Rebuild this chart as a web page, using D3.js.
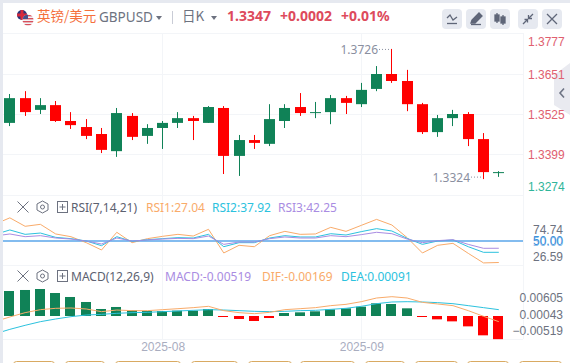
<!DOCTYPE html>
<html>
<head>
<meta charset="utf-8">
<style>
  body { margin: 0; background: #fff; }
  svg { display: block; font-family: "Noto Sans", "Noto Sans CJK SC", sans-serif; }
  .domain { display: none; }
</style>
<script src="https://cdn.jsdelivr.net/npm/d3@7"></script>
</head>
<body>
<div id="chart"></div>
<script>
// Candles, index 0 is the leftmost bar on screen
const opens = [1.3497, 1.3575, 1.3538, 1.3553, 1.3503, 1.3484, 1.3462, 1.3408, 1.3519, 1.3456, 1.3481, 1.3497, 1.3512, 1.3497, 1.3544, 1.3393, 1.3443, 1.3431, 1.3503, 1.3547, 1.3528, 1.3531, 1.3575, 1.3556, 1.3604, 1.3651, 1.3629, 1.3556, 1.3468, 1.3512, 1.3525, 1.3446, 1.3340];
const closes = [1.3575, 1.3531, 1.3553, 1.3503, 1.3490, 1.3456, 1.3412, 1.3528, 1.3453, 1.3481, 1.3497, 1.3512, 1.3503, 1.3547, 1.3393, 1.3443, 1.3434, 1.3509, 1.3544, 1.3528, 1.3531, 1.3575, 1.3560, 1.3601, 1.3651, 1.3629, 1.3556, 1.3468, 1.3512, 1.3525, 1.3446, 1.3342, 1.3342];
const highs = [1.3588, 1.3597, 1.3575, 1.3566, 1.3531, 1.3509, 1.3481, 1.3544, 1.3528, 1.3493, 1.3503, 1.3531, 1.3519, 1.3550, 1.3550, 1.3459, 1.3459, 1.3556, 1.3556, 1.3591, 1.3563, 1.3585, 1.3582, 1.3623, 1.3676, 1.3730, 1.3664, 1.3560, 1.3522, 1.3538, 1.3531, 1.3465, 1.3345];
const lows = [1.3487, 1.3519, 1.3525, 1.3500, 1.3478, 1.3446, 1.3402, 1.3390, 1.3443, 1.3431, 1.3415, 1.3481, 1.3443, 1.3497, 1.3336, 1.3330, 1.3415, 1.3424, 1.3481, 1.3519, 1.3512, 1.3493, 1.3525, 1.3547, 1.3597, 1.3623, 1.3534, 1.3462, 1.3453, 1.3487, 1.3424, 1.3320, 1.3327];

// Indicator series start one bar earlier, that bar is clipped off the left edge
const rsi1 = [67.8, 74.74, 65.7, 67.8, 57.5, 54.6, 48.2, 40.4, 59.3, 48.2, 52.5, 55.0, 57.1, 55.3, 62.5, 37.2, 45.4, 43.9, 55.7, 60.3, 57.1, 57.5, 64.6, 60.3, 66.7, 73.1, 67.1, 53.6, 37.2, 45.4, 47.5, 36.8, 26.59, 27.04];
const rsi2 = [56.8, 61.8, 57.1, 58.5, 53.9, 52.5, 50.0, 45.0, 54.6, 49.6, 51.4, 52.5, 53.6, 53.2, 57.1, 43.9, 48.2, 48.2, 53.2, 55.7, 54.3, 54.3, 57.8, 56.4, 60.0, 63.2, 60.7, 52.8, 46.4, 50.0, 51.1, 43.9, 37.9, 37.92];
const rsi3 = [55.3, 57.5, 54.6, 55.7, 53.2, 52.1, 50.0, 46.8, 53.2, 50.0, 51.1, 52.1, 52.8, 52.5, 55.3, 46.4, 48.9, 48.9, 52.5, 54.3, 53.2, 53.2, 55.7, 54.6, 56.8, 59.3, 57.8, 52.1, 48.2, 50.4, 51.4, 46.4, 42.2, 42.25];
const dif = [-0.00127, -0.00022, 0.00075, 0.00142, 0.00172, 0.00179, 0.00157, 0.00097, 0.00134, 0.00120, 0.00120, 0.00142, 0.00164, 0.00187, 0.00217, 0.00120, 0.00075, 0.00052, 0.00082, 0.00142, 0.00164, 0.00187, 0.00232, 0.00261, 0.00321, 0.00403, 0.00433, 0.00403, 0.00306, 0.00269, 0.00232, 0.00120, -0.00007, -0.00127];
const dea = [-0.00403, -0.00299, -0.00209, -0.00127, -0.00067, -0.00015, 0.00022, 0.00037, 0.00060, 0.00075, 0.00082, 0.00097, 0.00112, 0.00127, 0.00142, 0.00134, 0.00120, 0.00105, 0.00097, 0.00105, 0.00120, 0.00127, 0.00149, 0.00172, 0.00217, 0.00276, 0.00314, 0.00321, 0.00314, 0.00299, 0.00276, 0.00232, 0.00187, 0.00142];
const macdBars = [0.00560, 0.00583, 0.00605, 0.00515, 0.00426, 0.00314, 0.00157, 0.00202, 0.00127, 0.00112, 0.00112, 0.00120, 0.00120, 0.00157, -0.00019, -0.00067, -0.00112, -0.00045, 0.00067, 0.00082, 0.00105, 0.00149, 0.00172, 0.00209, 0.00284, 0.00269, 0.00172, -0.00022, -0.00075, -0.00120, -0.00232, -0.00433, -0.00519];

// Tick labels
const priceTicks = [1.3777, 1.3651, 1.3525, 1.3399, 1.3274];
const rsiTicks = [74.74, 50, 26.59];
const macdTicks = [0.00605, 0.00043, -0.00519];
const monthTicks = [10, 23];
const monthLabels = ["2025-08", "2025-09"];

const UP = "#108257", DOWN = "#ff0000";
const ORANGE = "#f9ab6a", CYAN = "#2cc2de", PURPLE = "#a98ce2";
const GRID = "#f3f5f8", LABEL = "#6d7280";

const width = 570, height = 363;

const svg = d3.select("#chart").append("svg")
  .attr("width", width)
  .attr("height", height)
  .attr("viewBox", `0 0 ${width} ${height}`);

const x = d3.scaleLinear().domain([0, 32]).range([9.85, 498.81]);
const y = d3.scaleLinear().domain([1.3777, 1.3274]).range([34, 193.7]);
const yRsi = d3.scaleLinear().domain([50, 0]).range([241, 287.8]);
const yMacd = d3.scaleLinear().domain([0, 0.00605]).range([316, 289]);

const px = (i) => Math.floor(x(i));

svg.append("defs").append("clipPath").attr("id", "plot")
  .append("rect").attr("x", 3).attr("y", 0).attr("width", 520).attr("height", height);

// Page frame
svg.append("rect").attr("width", width).attr("height", 3).attr("fill", "#e6e9f0");
svg.append("rect").attr("width", 3).attr("height", height).attr("fill", "#e6e9f0");

// Gridlines, drawn before everything else
const grid = svg.append("g").attr("stroke", GRID).attr("stroke-width", 1);
[33.5, 74.5, 114.5, 154.5, 195.5, 265.5, 339.5].forEach((g) => {
  grid.append("line").attr("x1", 3).attr("x2", 523).attr("y1", g).attr("y2", g);
});
monthTicks.forEach((m) => {
  grid.append("line").attr("x1", px(m) + 0.5).attr("x2", px(m) + 0.5).attr("y1", 33).attr("y2", 339);
});
grid.append("line").attr("x1", 523.5).attr("x2", 523.5).attr("y1", 33).attr("y2", 339);

// Candles
const candles = svg.append("g").attr("class", "candles").attr("clip-path", "url(#plot)");
const candle = candles.selectAll("g").data(opens).join("g")
  .attr("fill", (d, i) => (closes[i] >= d ? UP : DOWN))
  .attr("stroke", "none");

candle.append("rect")
  .attr("x", (d, i) => px(i))
  .attr("width", 1)
  .attr("y", (d, i) => y(highs[i]))
  .attr("height", (d, i) => y(lows[i]) - y(highs[i]));

candle.append("rect")
  .attr("x", (d, i) => px(i) - 5)
  .attr("width", 11)
  .attr("y", (d, i) => y(Math.max(d, closes[i])))
  .attr("height", (d, i) => Math.max(1, Math.abs(y(d) - y(closes[i]))));

// High and low markers
function extreme(text, right, yPos) {
  svg.append("text").attr("x", right - 13).attr("y", yPos + 4.5).attr("text-anchor", "end")
    .attr("font-size", 12).attr("fill", "#8a8f9f").text(text);
  svg.append("line").attr("x1", right - 12).attr("x2", right).attr("y1", yPos).attr("y2", yPos)
    .attr("stroke", "#8a8f9f").attr("stroke-dasharray", "1 2");
}
extreme("1.3726", px(25), y(d3.max(highs)) + 0.5);
extreme("1.3324", px(31), y(d3.min(lows)) - 2);

// Right hand collapse tab, the price labels sit on top of it
svg.append("path").attr("d", "M570 63L554 75V105L570 115Z").attr("fill", "#e9eaf0");
svg.append("path").attr("d", "M564 88.5L560 93L564 97.5").attr("fill", "none")
  .attr("stroke", "#6f7585").attr("stroke-width", 1.6);

// Price axis
const priceColor = (d) => (d === 1.3274 ? "#2fb59a" : "#e0606f");
const priceAxis = svg.append("g")
  .attr("transform", "translate(528,0)")
  .call(d3.axisRight(y).tickValues(priceTicks).tickSize(0).tickPadding(0).tickFormat(d3.format(".4f")));
priceAxis.selectAll("text")
  .attr("font-size", 12)
  .attr("font-family", "inherit")
  .attr("fill", priceColor)
  .attr("dy", (d) => (d === 1.3777 ? "0.95em" : d === 1.3274 ? "-0.25em" : "0.4em"));

// RSI pane
const rsiPane = svg.append("g").attr("clip-path", "url(#plot)");
rsiPane.append("line").attr("x1", 3).attr("x2", 523).attr("y1", yRsi(50)).attr("y2", yRsi(50))
  .attr("stroke", "#8fc6f2").attr("stroke-width", 2);

const rsiLine = d3.line().x((d, i) => x(i - 1)).y((d) => yRsi(d));
[[rsi1, ORANGE], [rsi2, CYAN], [rsi3, PURPLE]].forEach(([series, color]) => {
  rsiPane.append("path").datum(series).attr("d", rsiLine)
    .attr("fill", "none").attr("stroke", color).attr("stroke-width", 1);
});
// a second blue line sits on the 50 level
rsiPane.append("line").attr("x1", 3).attr("x2", 523).attr("y1", yRsi(50)).attr("y2", yRsi(50))
  .attr("stroke", "#5b9be8").attr("stroke-width", 0.6).attr("opacity", 0.7);

const rsiAxis = svg.append("g")
  .attr("transform", "translate(563,0)")
  .call(d3.axisLeft(yRsi).tickValues(rsiTicks).tickSize(0).tickPadding(0).tickFormat(d3.format(".2f")));
rsiAxis.selectAll("text")
  .attr("font-size", 12)
  .attr("font-family", "inherit")
  .attr("fill", (d) => (d === 50 ? "#3f93dc" : LABEL))
  .attr("transform", (d) => (d === 74.74 ? "translate(0,11.5)" : d === 26.59 ? "translate(0,-6)" : null));
// the 50.00 label is printed twice, slightly apart
svg.append("text").attr("x", 563.4).attr("y", yRsi(50) + 4.6).attr("text-anchor", "end")
  .attr("font-size", 12).attr("fill", "#3f93dc").attr("opacity", 0.6).text("50.00");

// MACD pane
const macdPane = svg.append("g").attr("clip-path", "url(#plot)");
macdPane.selectAll("rect").data(macdBars).join("rect")
  .attr("x", (d, i) => px(i) - 5)
  .attr("width", 10)
  .attr("y", (d) => Math.min(yMacd(d), yMacd(0)))
  .attr("height", (d) => Math.max(1, Math.abs(yMacd(d) - yMacd(0))))
  .attr("fill", (d) => (d >= 0 ? UP : DOWN));

const macdLine = d3.line().x((d, i) => x(i - 1)).y((d) => yMacd(d));
[[dea, CYAN], [dif, ORANGE]].forEach(([series, color]) => {
  macdPane.append("path").datum(series).attr("d", macdLine)
    .attr("fill", "none").attr("stroke", color).attr("stroke-width", 1);
});

const macdScaleLabels = d3.scalePoint().domain(macdTicks).range([298, 331]);
const macdAxis = svg.append("g")
  .attr("transform", "translate(563,0)")
  .call(d3.axisLeft(macdScaleLabels).tickSize(0).tickPadding(0).tickFormat(d3.format(".5f")));
macdAxis.selectAll("text").attr("font-size", 12).attr("font-family", "inherit").attr("fill", LABEL);

// Month labels
const monthAxis = svg.append("g")
  .attr("transform", "translate(0,340)")
  .call(d3.axisBottom(x).tickValues(monthTicks).tickSize(0).tickPadding(2)
    .tickFormat((d, i) => monthLabels[i]));
monthAxis.selectAll("text").attr("font-size", 12).attr("font-family", "inherit").attr("fill", "#a9adbf");

// Cut-off buttons along the bottom edge
const buttonEdges = [[13, 54], [65, 104], [115, 180], [191, 237], [248, 291], [300, 354], [365, 404], [415, 457], [467, 508], [519, 561]];
svg.append("g").selectAll("rect").data(buttonEdges).join("rect")
  .attr("x", (d) => d[0] + 0.5).attr("y", 361.5)
  .attr("width", (d) => d[1] - d[0]).attr("height", 12).attr("rx", 3)
  .attr("fill", "#fff").attr("stroke", "#d9aa62");

// Header
function label(text, xPos, yPos, color, size, weight) {
  return svg.append("text").attr("x", xPos).attr("y", yPos).attr("fill", color)
    .attr("font-size", size).attr("font-weight", weight || "normal").text(text);
}

const defs = svg.select("defs");
defs.append("clipPath").attr("id", "uk").append("circle").attr("cx", 22).attr("cy", 15).attr("r", 5);
defs.append("clipPath").attr("id", "us").append("circle").attr("cx", 28).attr("cy", 20).attr("r", 5.5);
const uk = svg.append("g").attr("clip-path", "url(#uk)");
uk.append("rect").attr("x", 16).attr("y", 9).attr("width", 12).attr("height", 12).attr("fill", "#26367a");
uk.append("rect").attr("x", 16).attr("y", 13.5).attr("width", 12).attr("height", 3).attr("fill", "#d8293c");
uk.append("rect").attr("x", 20.5).attr("y", 9).attr("width", 3).attr("height", 12).attr("fill", "#d8293c");
const us = svg.append("g").attr("clip-path", "url(#us)");
us.append("rect").attr("x", 22).attr("y", 14).attr("width", 12).attr("height", 12).attr("fill", "#f2f2f4");
[15, 18, 21, 24].forEach((s) => {
  us.append("rect").attr("x", 22).attr("y", s).attr("width", 12).attr("height", 1.4).attr("fill", "#d8505c");
});
us.append("rect").attr("x", 22).attr("y", 14).attr("width", 6).attr("height", 5).attr("fill", "#45508c");

label("英镑/美元", 37, 21, "#f5703c", 13.5).attr("font-family", "Noto Sans CJK SC");
label("GBPUSD", 99, 22, "#6d7280", 13.5);
svg.append("path").attr("d", "M156 16H162L159 20Z").attr("fill", "#6d7280");
svg.append("line").attr("x1", 172.5).attr("x2", 172.5).attr("y1", 11).attr("y2", 24).attr("stroke", "#c9ccd6");
label("日K", 182, 21, "#6d7280", 13.5).attr("font-family", "Noto Sans CJK SC");
svg.append("path").attr("d", "M211 16H217L214 20Z").attr("fill", "#6d7280");
label("1.3347", 227, 21, "#dd4a5c", 14, "bold");
label("+0.0002", 280, 21, "#dd4a5c", 14, "bold");
label("+0.01%", 341, 21, "#dd4a5c", 14, "bold");

// Toolbar buttons
const toolbar = svg.append("g");
[442, 466, 490, 518, 542].forEach((bx) => {
  toolbar.append("rect").attr("x", bx).attr("y", 9).attr("width", 20).attr("height", 20).attr("rx", 4).attr("fill", "#e6e9f0");
});
const icon = toolbar.append("g").attr("fill", "none").attr("stroke", "#5f6678").attr("stroke-width", 1.3);
icon.append("path").attr("d", "M447 18L450 15L453 20L457 17");
icon.append("path").attr("d", "M447 23.5H457");
icon.append("path").attr("d", "M471 23L472 20L479 13L482 16L475 23Z").attr("fill", "#5f6678");
icon.append("path").attr("d", "M471 24.5H481");
icon.append("path").attr("d", "M497 13V23M503 15V25");
icon.append("rect").attr("x", 495).attr("y", 15).attr("width", 4).attr("height", 6).attr("fill", "#5f6678");
icon.append("rect").attr("x", 501).attr("y", 17).attr("width", 4).attr("height", 6).attr("fill", "#5f6678");
icon.append("path").attr("d", "M523 24L527 20M533 14L529 18");
icon.append("path").attr("d", "M524.5 19.5H527.5V22.5M528.5 15V18.5H532");
icon.append("path").attr("d", "M547 14L557 24M557 14L547 24");

// Pane headers
function paneHeader(yMid, title) {
  const g = svg.append("g").attr("fill", "none").attr("stroke", "#6d7280").attr("stroke-width", 1);
  g.append("path").attr("d", `M17.5 ${yMid - 5.5}L28.5 ${yMid + 5.5}M28.5 ${yMid - 5.5}L17.5 ${yMid + 5.5}`);
  g.append("path").attr("d", `M42.5 ${yMid - 6}L48 ${yMid - 3}V${yMid + 3}L42.5 ${yMid + 6}L37 ${yMid + 3}V${yMid - 3}Z`);
  g.append("circle").attr("cx", 42.5).attr("cy", yMid).attr("r", 2);
  g.append("rect").attr("x", 57.5).attr("y", yMid - 5.5).attr("width", 10).attr("height", 11);
  g.append("path").attr("d", `M59.5 ${yMid}H65.5M62.5 ${yMid - 3}V${yMid + 3}`);
  label(title, 71, yMid + 4.5, "#5c6170", 12);
}
paneHeader(207, "RSI(7,14,21)");
label("RSI1:27.04", 146, 211.5, ORANGE, 12);
label("RSI2:37.92", 212, 211.5, CYAN, 12);
label("RSI3:42.25", 278, 211.5, PURPLE, 12);

paneHeader(276, "MACD(12,26,9)");
label("MACD:-0.00519", 165, 280.5, PURPLE, 12);
label("DIF:-0.00169", 262, 280.5, ORANGE, 12);
label("DEA:0.00091", 341, 280.5, CYAN, 12);
</script>
</body>
</html>
